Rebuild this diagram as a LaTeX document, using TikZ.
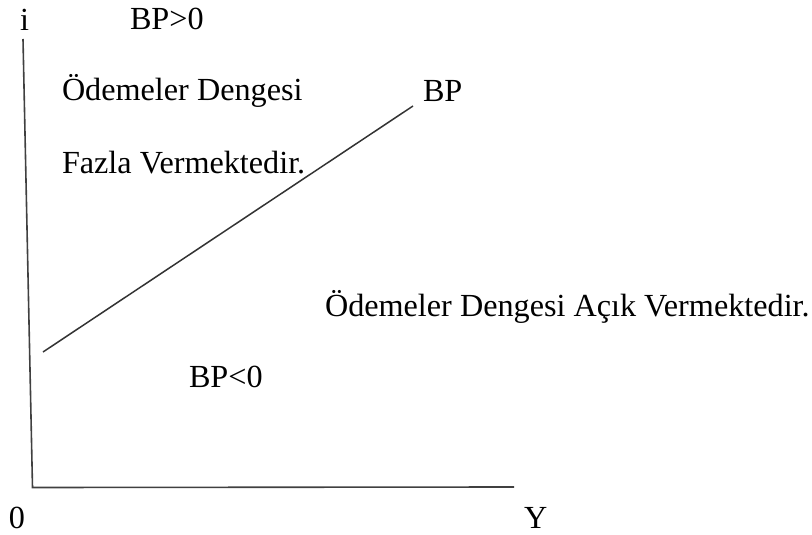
\documentclass[tikz,border=0pt]{standalone}
\usepackage{fontspec}
\setmainfont{Liberation Serif}
\begin{document}
\begin{tikzpicture}[x=1pt,y=-1pt,
  lbl/.style={anchor=base west,inner sep=0pt,outer sep=0pt,font=\fontsize{32.2}{36}\selectfont,text=black},
  axisline/.style={draw=black!75,line width=1.6pt},
  bpline/.style={draw=black!80,line width=1.5pt}]
\useasboundingbox (0,0) rectangle (812,535);
\coordinate (ytop) at (23,39);
\coordinate (orig) at (32.5,487.5);
\coordinate (xend) at (514,487);
\coordinate (bpa) at (43,352);
\coordinate (bpb) at (413,106);
\draw[axisline] (ytop) -- (orig) -- (xend);
\draw[bpline] (bpa) -- (bpb);
\node[lbl] (i) at (20,31) {i};
\node[lbl] (bppos) at (130,30) {BP>0};
\node[lbl] (od1) at (62,100) {Ödemeler Dengesi};
\node[lbl] (fazla) at (62,173) {Fazla Vermektedir.};
\node[lbl] (bp) at (423,102) {BP};
\node[lbl] (od2) at (325,316) {Ödemeler Dengesi Açık Vermektedir.};
\node[lbl] (bpneg) at (189,387) {BP<0};
\node[lbl] (zero) at (9,528) {0};
\node[lbl] (y) at (524,528) {Y};
\end{tikzpicture}
\end{document}
